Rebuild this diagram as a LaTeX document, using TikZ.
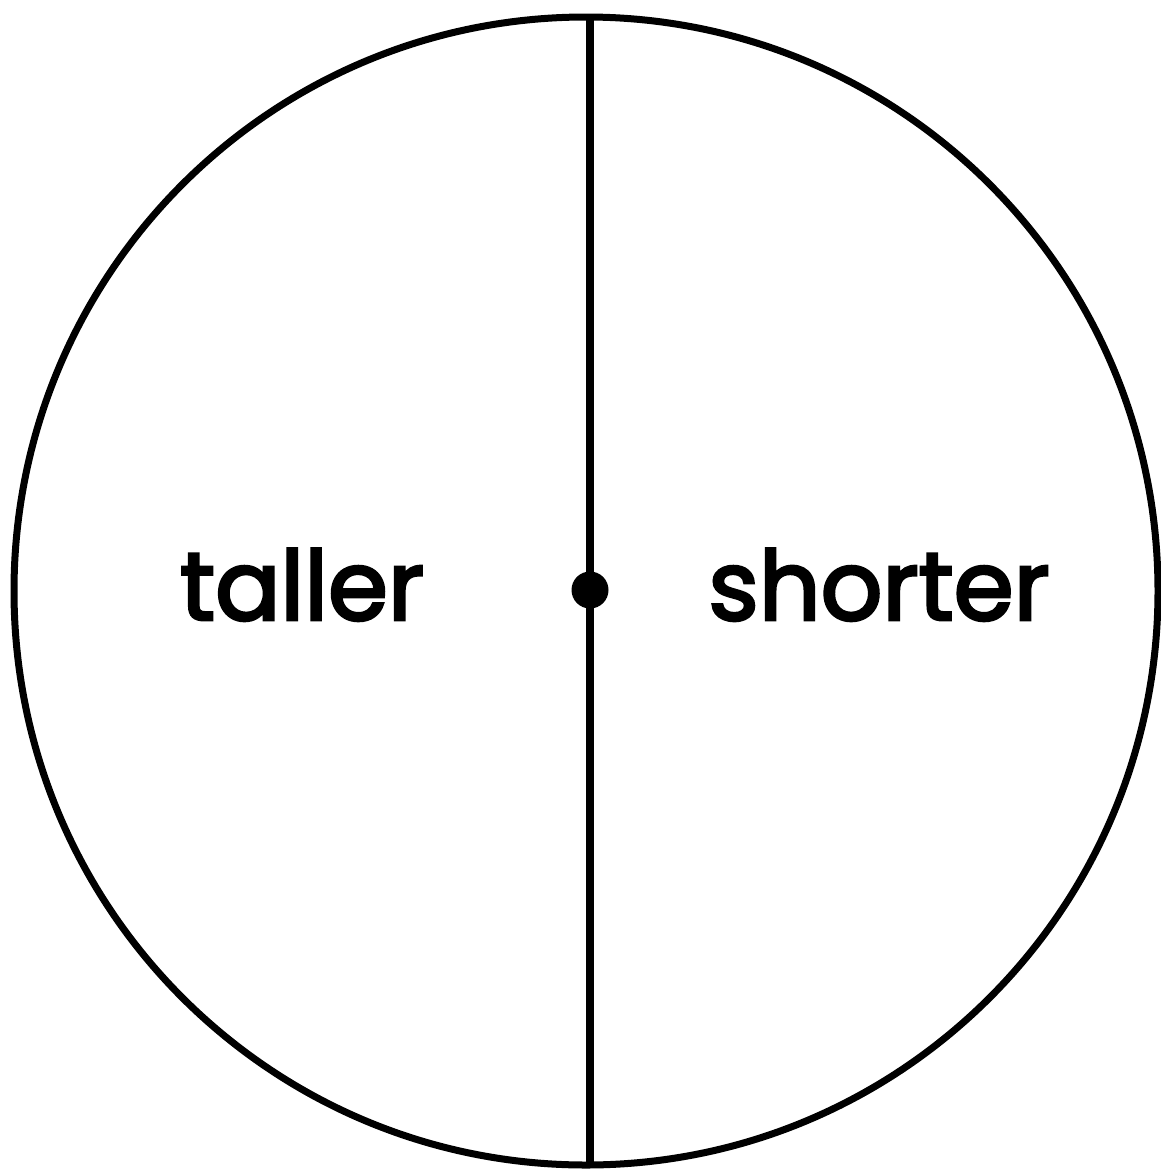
\documentclass[tikz,border=0pt]{standalone}
\usepackage{fontspec}
\setmainfont{Poppins}
\newfontfamily\labelfont[FakeBold=3]{Poppins}
\begin{document}
\begin{tikzpicture}[x=1bp,y=-1bp,
  outline/.style={line width=7bp,draw=black},
  label/.style={font=\labelfont\fontsize{97}{110}\selectfont,inner sep=0pt,anchor=base}]
\useasboundingbox (0,0) rectangle (1161,1169);
\draw[outline] (586,591) ellipse [x radius=572, y radius=574];
\coordinate (top) at (590,16);
\coordinate (bot) at (590,1166);
\draw[line width=8bp] (top) -- (bot);
\node[circle,fill=black,minimum size=37bp,inner sep=0pt] (dot) at (590,590) {};
\node[label] (taller) at (302,620) {taller};
\node[label] (shorter) at (879,620) {shorter};
\end{tikzpicture}
\end{document}
